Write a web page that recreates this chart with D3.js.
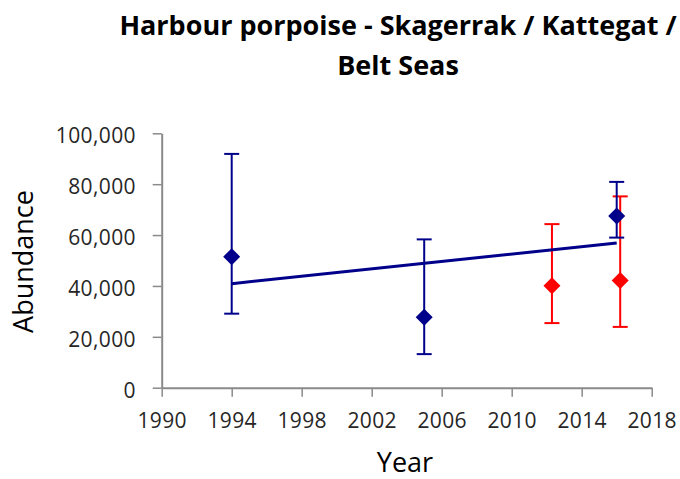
<!DOCTYPE html>
<html>
<head>
<meta charset="utf-8">
<script src="https://cdn.jsdelivr.net/npm/d3@7"></script>
<style>
  html, body { margin: 0; padding: 0; background: #fff; }
  svg { display: block; }
</style>
</head>
<body>
<svg id="chart" width="680" height="479"></svg>
<script>
// Harbour porpoise abundance estimates with confidence intervals
const titleLines = ["Harbour porpoise - Skagerrak / Kattegat /", "Belt Seas"];
const xLabel = "Year";
const yLabel = "Abundance";

const xTicks = [1990, 1994, 1998, 2002, 2006, 2010, 2014, 2018];
const yTicks = [0, 20000, 40000, 60000, 80000, 100000];

// Blue series (survey estimates used for the trend)
const blueYears = [1994, 2005, 2016];
const blueValues = [51500, 27700, 67500];
const blueLower = [29100, 13200, 59000];
const blueUpper = [91900, 58300, 80900];

// Red series
const redYears = [2012.3, 2016.2];
const redValues = [40100, 42100];
const redLower = [25400, 23900];
const redUpper = [64300, 75200];

const BLUE = "#00008b";
const RED = "#ff0000";
const AXIS = "#8a8a8a";
const LABEL = "#262626";

const svg = d3.select("#chart");

const x = d3.scaleLinear().domain([1990, 2018]).range([161.7, 651.7]);
const y = d3.scaleLinear().domain([0, 100000]).range([387.7, 133.3]);

// Title
const title = svg.append("g")
  .attr("font-family", "'Open Sans', sans-serif")
  .attr("font-weight", "bold")
  .attr("font-size", 27)
  .attr("fill", "#000")
  .attr("text-anchor", "middle");
title.selectAll("text").data(titleLines).join("text")
  .attr("x", 398)
  .attr("y", (d, i) => 35 + i * 40)
  .text(d => d);
// keep the first line to its set width
const t0 = title.select("text").node();
const w0 = t0.getComputedTextLength();
if (Math.abs(w0 - 557) > 6) {
  d3.select(t0).attr("textLength", 557).attr("lengthAdjust", "spacingAndGlyphs");
}

// Axes
const yAxis = d3.axisLeft(y)
  .tickValues(yTicks)
  .tickFormat(d3.format(","))
  .tickSizeInner(9)
  .tickSizeOuter(0)
  .tickPadding(16.7);

const xAxis = d3.axisBottom(x)
  .tickValues(xTicks)
  .tickFormat(d3.format("d"))
  .tickSizeInner(9)
  .tickSizeOuter(0)
  .tickPadding(16);

const gy = svg.append("g").attr("transform", "translate(161.7,0)").call(yAxis);
const gx = svg.append("g").attr("transform", "translate(0,387.7)").call(xAxis);

[gx, gy].forEach(g => {
  g.select(".domain").attr("stroke", AXIS).attr("stroke-width", 2);
  g.selectAll(".tick line").attr("stroke", AXIS).attr("stroke-width", 1.5);
  g.selectAll(".tick text")
    .attr("fill", LABEL)
    .attr("font-family", "'Open Sans', sans-serif")
    .attr("font-size", 21)
    .attr("letter-spacing", 0.4);
});
gy.selectAll(".tick text").attr("dy", "0.45em");

// Axis titles
svg.append("text")
  .attr("x", 405)
  .attr("y", 472)
  .attr("text-anchor", "middle")
  .attr("font-family", "'Open Sans', sans-serif")
  .attr("font-size", 27)
  .attr("fill", "#000")
  .text(xLabel);

svg.append("text")
  .attr("transform", "translate(33,261.5) rotate(-90)")
  .attr("text-anchor", "middle")
  .attr("font-family", "'Open Sans', sans-serif")
  .attr("font-size", 27)
  .attr("fill", "#000")
  .text(yLabel);

// Series with error bars and diamond markers
function drawSeries(years, values, lower, upper, color) {
  const data = years.map((yr, i) => ({ yr, v: values[i], lo: lower[i], hi: upper[i] }));
  const g = svg.append("g");
  const bars = g.selectAll("g.err").data(data).join("g").attr("class", "err")
    .attr("stroke", color).attr("stroke-width", 2).attr("fill", "none");
  bars.append("line")
    .attr("x1", d => x(d.yr)).attr("x2", d => x(d.yr))
    .attr("y1", d => y(d.lo)).attr("y2", d => y(d.hi));
  bars.append("line")
    .attr("x1", d => x(d.yr) - 7.5).attr("x2", d => x(d.yr) + 7.5)
    .attr("y1", d => y(d.lo)).attr("y2", d => y(d.lo));
  bars.append("line")
    .attr("x1", d => x(d.yr) - 7.5).attr("x2", d => x(d.yr) + 7.5)
    .attr("y1", d => y(d.hi)).attr("y2", d => y(d.hi));
  g.selectAll("path.pt").data(data).join("path").attr("class", "pt")
    .attr("transform", d => `translate(${x(d.yr)},${y(d.v)})`)
    .attr("d", "M0,-8.5L8.5,0L0,8.5L-8.5,0Z")
    .attr("fill", color);
}

drawSeries(redYears, redValues, redLower, redUpper, RED);
drawSeries(blueYears, blueValues, blueLower, blueUpper, BLUE);

// Linear trend through the blue series
const mx = d3.mean(blueYears), my = d3.mean(blueValues);
const slope = d3.sum(blueYears, (xv, i) => (xv - mx) * (blueValues[i] - my)) /
              d3.sum(blueYears, xv => (xv - mx) ** 2);
const intercept = my - slope * mx;
const trendX = d3.extent(blueYears);
svg.append("path")
  .datum(trendX.map(xv => [xv, intercept + slope * xv]))
  .attr("d", d3.line().x(d => x(d[0])).y(d => y(d[1])))
  .attr("stroke", BLUE)
  .attr("stroke-width", 3)
  .attr("fill", "none");
</script>
</body>
</html>
